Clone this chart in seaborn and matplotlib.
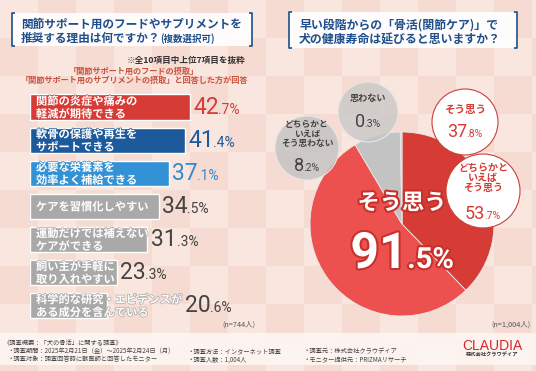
import numpy as np
import pandas as pd
import matplotlib
matplotlib.use("Agg")
import matplotlib.pyplot as plt
import matplotlib.patheffects as pe
from matplotlib.patches import Rectangle, Circle
import seaborn as sns

# ---------------- data ----------------
reasons = [
    "関節の炎症や痛みの\n軽減が期待できる",
    "軟骨の保護や再生を\nサポートできる",
    "必要な栄養素を\n効率よく補給できる",
    "ケアを習慣化しやすい",
    "運動だけでは補えない\nケアができる",
    "飼い主が手軽に\n取り入れやすい",
    "科学的な研究・エビデンスが\nある成分を含んでいる",
]
reason_values = [42.7, 41.4, 37.1, 34.5, 31.3, 23.3, 20.6]

pie_labels = ["そう思う", "どちらかと\nいえば\nそう思う", "どちらかと\nいえば\nそう思わない", "思わない"]
pie_values = [37.8, 53.7, 8.2, 0.3]
yes_total = 91.5

title_left = ["関節サポート用のフードやサプリメントを", "推奨する理由は何ですか？", "(複数選択可)"]
title_right = ["早い段階からの「骨活(関節ケア)」で", "犬の健康寿命は延びると思いますか？"]
note_lines = ["※全10項目中上位7項目を抜粋",
              "「関節サポート用のフードの摂取」",
              "「関節サポート用のサプリメントの摂取」と回答した方が回答"]
n_left = "(n=744人)"
n_right = "(n=1,004人)"
footer_col1 = ["《調査概要：「犬の骨活」に関する調査》",
               "・調査期間：2025年2月21日（金）～2025年2月24日（月）",
               "・調査対象：調査回答時に獣医師と回答したモニター"]
footer_col2 = ["・調査方法：インターネット調査", "・調査人数：1,004人"]
footer_col3 = ["・調査元：株式会社クラウディア", "・モニター提供元：PRIZMAリサーチ"]
brand = "CLAUDIA"
brand_sub = "株式会社クラウディア"

# ---------------- style ----------------
sns.set_theme(style="white")
JP = ["Noto Sans CJK JP", "DejaVu Sans"]
NUM = ["Roboto", "DejaVu Sans"]
plt.rcParams["font.family"] = JP

W, H = 536, 371
fig = plt.figure(figsize=(W / 100, H / 100), dpi=100)
fig.patch.set_facecolor("#f8e3da")

def frac(x0, y0, x1, y1):
    return [x0 / W, 1 - y1 / H, (x1 - x0) / W, (y1 - y0) / H]

# background checker
bg = fig.add_axes([0, 0, 1, 1], zorder=0)
yy, xx = np.mgrid[0:H, 0:W]
checker = ((xx // 38 + yy // 38) % 2).astype(float)
bg.imshow(checker, cmap=matplotlib.colors.ListedColormap(["#f9e6de", "#f5dbd1"]),
          extent=(0, W, H, 0), aspect="auto", interpolation="nearest")
bg.set_xlim(0, W); bg.set_ylim(H, 0); bg.axis("off")
bg.add_patch(Rectangle((0, 333), W, 32, facecolor="#fdf6f3", edgecolor="none", alpha=0.9))

# ---------------- overlay (pixel coordinates, y down) ----------------
ov = fig.add_axes([0, 0, 1, 1], zorder=5)
ov.set_xlim(0, W); ov.set_ylim(H, 0); ov.axis("off")
ov.patch.set_alpha(0)

fig.canvas.draw()
renderer = fig.canvas.get_renderer()

def split_number(x, y, value, color, big, small, weight="normal", effects=None,
                 z=7, align="center"):
    """Large integer part + smaller '.d%' part; x is centre (or left edge)."""
    s = f"{value:.1f}"
    ip, dp = s.split(".")
    tn = ov.text(0, y, ip, color=color, fontsize=big, ha="left", va="baseline",
                 family=NUM, fontweight=weight, path_effects=effects, zorder=z)
    td = ov.text(0, y, "." + dp + "%", color=color, fontsize=small, ha="left",
                 va="baseline", family=NUM, fontweight=weight, path_effects=effects, zorder=z)
    w1 = tn.get_window_extent(renderer).width
    w2 = td.get_window_extent(renderer).width
    gap = -0.5
    total = w1 + gap + w2
    x0 = x - total / 2 if align == "center" else x
    tn.set_x(x0)
    td.set_x(x0 + w1 + gap)
    return x0 + total

# ---------------- bar chart ----------------
bar_colors = ["#d63b35", "#1d5a9b", "#3391d5", "#a9a9a9", "#a9a9a9", "#a9a9a9", "#a9a9a9"]
val_colors = ["#d63b35", "#1d5a9b", "#2f8bd0", "#444444", "#444444", "#444444", "#444444"]
df = pd.DataFrame({"reason": reasons, "value": reason_values})
bx0, bx1, by0, by1 = 30, 230, 90.5, 322
axb = fig.add_axes(frac(bx0, by0, bx1, by1), zorder=2)
sns.barplot(data=df, x="value", y="reason", hue="reason", palette=bar_colors,
            orient="h", width=0.76, legend=False, ax=axb, saturation=1)
axb.set_xlim(0, 200 / 3.75)
axb.set_facecolor("none")
axb.axis("off")

fig.canvas.draw()
for i, (lab, v) in enumerate(zip(reasons, reason_values)):
    t = axb.text(1.6, i + 0.02, lab, color="white", fontsize=8.1, fontweight="bold",
                 va="center", ha="left", linespacing=0.98, family=JP,
                 path_effects=[pe.withStroke(linewidth=1.0, foreground=bar_colors[i])])
    bb = t.get_window_extent(renderer)
    bar_end_disp = axb.transData.transform((v, i))
    # convert to overlay pixel coordinates
    end_x = max(bar_end_disp[0], bb.x1)
    ox, oy = ov.transData.inverted().transform((end_x, bar_end_disp[1]))
    split_number(ox + 3, oy + 6.5, v, val_colors[i], 16.5, 10, align="left")

# ---------------- pie chart ----------------
cx, cy, r = 402, 224, 92
axp = fig.add_axes(frac(cx - r, cy - r, cx + r, cy + r), zorder=2)
pie_colors = ["#d63b35", "#ec5150", "#c3c3c3", "#cfcfcf"]
axp.pie(pie_values, colors=pie_colors, startangle=90, counterclock=False,
        wedgeprops=dict(linewidth=0.6, edgecolor="#e8e8e8"), radius=1.0)
axp.set_xlim(-1, 1); axp.set_ylim(-1, 1)
axp.set_aspect("equal")
axp.axis("off")

# ---------------- titles & notes ----------------
def title_box(x0, x1, y0, y1, col="#1e4e8c"):
    ov.add_patch(Rectangle((x0, y0), x1 - x0, y1 - y0, facecolor="white",
                           edgecolor="none", alpha=0.92))
    a = 3
    ov.plot([x0 + a, x0, x0, x0 + a], [y0, y0, y1, y1], color=col, lw=1.2,
            solid_capstyle="butt")
    ov.plot([x1 - a, x1, x1, x1 - a], [y0, y0, y1, y1], color=col, lw=1.2,
            solid_capstyle="butt")

tc = "#1e4e8c"
title_box(12, 252, 13, 46)
ov.text(21, 24, title_left[0], color=tc, fontsize=8.4, fontweight="bold", va="center", ha="left")
t2 = ov.text(21, 38.5, title_left[1], color=tc, fontsize=8.4, fontweight="bold", va="center", ha="left")
ov.annotate(title_left[2], xy=(1, 0.5), xycoords=t2, xytext=(0, 0), textcoords="offset points",
            color=tc, fontsize=6.8, fontweight="bold", va="center", ha="left")

title_box(289, 517, 12, 48)
ov.text(299, 25, title_right[0], color=tc, fontsize=8.6, fontweight="bold", va="center", ha="left")
ov.text(299, 40, title_right[1], color=tc, fontsize=8.6, fontweight="bold", va="center", ha="left")

ov.text(245, 60, note_lines[0], color="#333333", fontsize=6.2, fontweight="bold", va="center", ha="right")
ov.text(134, 71.5, note_lines[1], color="#c9523f", fontsize=5.9, fontweight="bold", va="center", ha="center")
ov.text(134, 80.5, note_lines[2], color="#c9523f", fontsize=5.9, fontweight="bold", va="center", ha="center")

ov.text(255, 325, n_left, color="#555555", fontsize=5.3, va="center", ha="right")
ov.text(531, 325, n_right, color="#555555", fontsize=5.3, va="center", ha="right")

# pie label bubbles
def bubble(x, y, rad, label, value, face, edge, tcol, lab_dy, val_dy, lab_fs=6.6):
    ov.add_patch(Circle((x, y), rad, facecolor=face, edgecolor=edge, lw=0.8, zorder=6))
    ov.text(x, y + lab_dy, label, color=tcol, fontsize=lab_fs, fontweight="bold",
            ha="center", va="center", linespacing=1.0, zorder=7)
    split_number(x, y + val_dy + 6, value, tcol, 13, 7.5)

red = "#d63b35"
bubble(368, 112, 30, pie_labels[3], pie_values[3], (0.78, 0.78, 0.78, 0.75), "#e6e6e6",
       "#444444", -14, 9)
bubble(307, 148, 32, pie_labels[2], pie_values[2], (0.76, 0.76, 0.76, 0.8),
       "#e6e6e6", "#444444", -14, 17, lab_fs=6.3)
bubble(465, 122, 33, pie_labels[0], pie_values[0], "white", "#c9403a", red, -12, 9, lab_fs=7.6)
bubble(483, 191, 37, pie_labels[1], pie_values[1], "white", "#c9403a", red, -13, 22, lab_fs=7.2)

# centre text
stroke = [pe.withStroke(linewidth=3, foreground="#c8302b")]
ov.text(cx, 203, pie_labels[0], color="white", fontsize=16, fontweight="bold",
        ha="center", va="center", path_effects=stroke, zorder=7)
split_number(cx, 268, yes_total, "white", 36, 21, weight="bold", effects=stroke)

# footer
fc = "#444444"
for k, line in enumerate(footer_col1):
    ov.text(4 if k == 0 else 7, 343 + 8.2 * k, line, color=fc, fontsize=4.5, va="center", ha="left")
for k, line in enumerate(footer_col2):
    ov.text(188, 351.2 + 8.2 * k, line, color=fc, fontsize=4.5, va="center", ha="left")
for k, line in enumerate(footer_col3):
    ov.text(303, 351.2 + 8.2 * k, line, color=fc, fontsize=4.5, va="center", ha="left")
ov.text(492, 346, brand, color="#d8262c", fontsize=10, va="center", ha="center",
        family=["Liberation Sans", "DejaVu Sans"])
ov.text(492, 355.5, brand_sub, color="#333333", fontsize=3.8, fontweight="bold", va="center", ha="center")

fig.savefig("out.png", dpi=100, facecolor=fig.get_facecolor())
